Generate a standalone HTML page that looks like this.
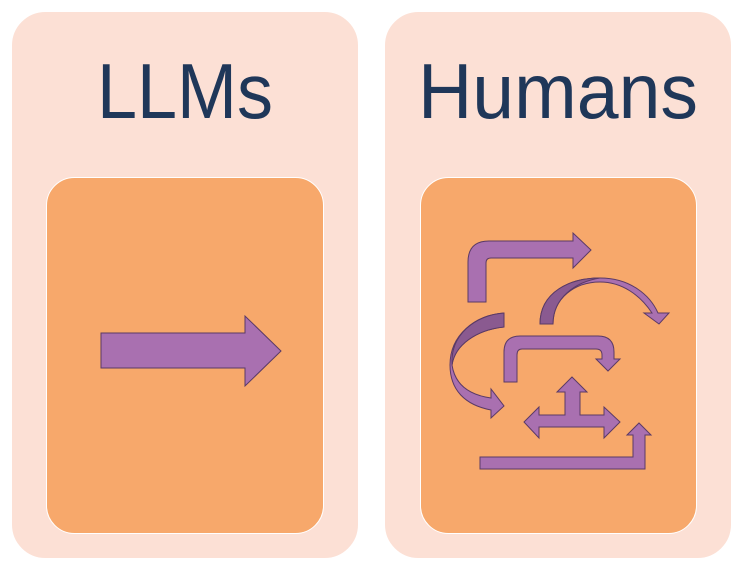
<!DOCTYPE html>
<html><head><meta charset="utf-8"><style>
html,body{margin:0;padding:0;background:#fff;width:738px;height:570px;overflow:hidden}
</style></head><body>
<svg width="738" height="570" viewBox="0 0 738 570" xmlns="http://www.w3.org/2000/svg">
<rect x="11.5" y="11.5" width="347" height="547" rx="34" fill="#fce0d5" stroke="#fff"/>
<rect x="384.5" y="11.5" width="347" height="547" rx="34" fill="#fce0d5" stroke="#fff"/>
<rect x="46.5" y="177.5" width="277" height="356" rx="28" fill="#f7a86b" stroke="#fff"/>
<rect x="420.5" y="177.5" width="276" height="356" rx="28" fill="#f7a86b" stroke="#fff"/>
<text x="97" y="118" font-family="Liberation Sans, sans-serif" font-size="78" fill="#1f3759" textLength="176" lengthAdjust="spacingAndGlyphs">LLMs</text>
<text x="418" y="118" font-family="Liberation Sans, sans-serif" font-size="78" fill="#1f3759" textLength="280" lengthAdjust="spacingAndGlyphs">Humans</text>
<g fill="#a970b0" stroke="#5a3a66" stroke-width="1" stroke-linejoin="miter">
<path d="M101,333 L245,333 L245,316 L281,351 L245,386 L245,368 L101,368 Z"/>
<path d="M468,302 L468,262 Q468,241 489,241 L573,241 L573,233 L591,250 L573,268 L573,258 L491,258 Q486,258 486,263 L486,302 Z"/>
<path d="M540,324 C540,292 570,278 600,278 C630,278 650,295 658,313 L669,313 L659,324 L644,313 L652,313 C640,295 622,282 600,282 C575,282 553,298 553,324 Z"/>
<path d="M540,324 C540,292 570,278 600,278 C575,282 553,298 553,324 Z" fill="#8a5a90"/>
<path d="M504,313 L504,327 C476,330 455,345 452,365 C455,385 470,395 491,398 L491,389 L504,406 L491,418 L491,410 C465,405 450,390 450,365 C450,335 475,315 504,313 Z"/>
<path d="M504,313 L504,327 C476,330 455,345 452,365 C450,335 475,315 504,313 Z" fill="#8a5a90"/>
<path d="M504,382 L504,352 Q504,336 520,336 L598,336 Q614,336 614,352 L614,359 L620,359 L608,371 L596,359 L602,359 L602,355 Q602,349 596,349 L522,349 Q517,349 517,355 L517,382 Z"/>
<path d="M572,377 L587,392 L580,392 L580,415 L604,415 L604,407 L620,422 L604,438 L604,427 L539,427 L539,438 L524,422 L539,407 L539,415 L565,415 L565,392 L557,392 Z"/>
<path d="M480,457 L633,457 L633,435 L627,435 L639,423 L651,435 L645,435 L645,469 L480,469 Z"/>
</g>
</svg>
</body></html>
